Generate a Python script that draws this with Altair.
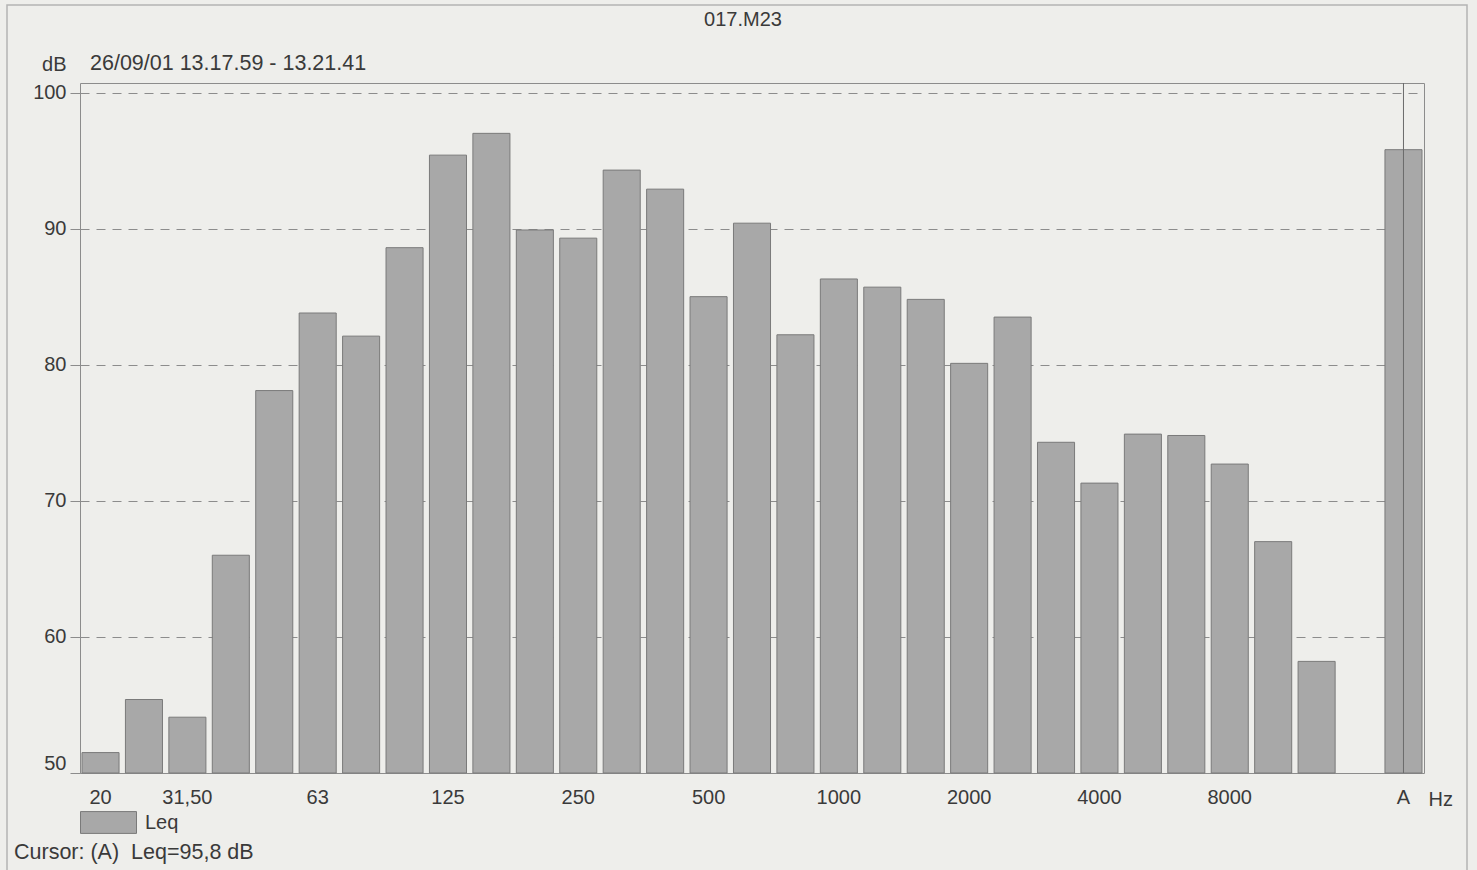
import altair as alt
import pandas as pd

# Third-octave bands (Hz), an empty slot, then the A-weighted total
BANDS = ["20", "25", "31.5", "40", "50", "63", "80", "100", "125", "160",
         "200", "250", "315", "400", "500", "630", "800", "1000", "1250", "1600",
         "2000", "2500", "3150", "4000", "5000", "6300", "8000", "10000", "12500",
         " ", "A"]
BAR_BANDS = ["20", "25", "31.5", "40", "50", "63", "80", "100", "125", "160",
             "200", "250", "315", "400", "500", "630", "800", "1000", "1250", "1600",
             "2000", "2500", "3150", "4000", "5000", "6300", "8000", "10000", "12500",
             "A"]
LEQ = [51.5, 55.4, 54.1, 66.0, 78.1, 83.8, 82.1, 88.6, 95.4, 97.0,
       89.9, 89.3, 94.3, 92.9, 85.0, 90.4, 82.2, 86.3, 85.7, 84.8,
       80.1, 83.5, 74.3, 71.3, 74.9, 74.8, 72.7, 67.0, 58.2,
       95.8]
TICK_BANDS = ["20", "31.5", "63", "125", "250", "500", "1000", "2000", "4000", "8000", "A"]
Y_TICKS = [50, 60, 70, 80, 90, 100]
SERIES = "Leq"
TITLE = "017.M23"
DATE_TEXT = "26/09/01 13.17.59 - 13.21.41"
CURSOR_TEXT = "Cursor: (A)\u00a0 Leq=95,8 dB"

FONT = "Liberation Sans"
TXT = "#3a3a3a"
FS = 20

df = pd.DataFrame({"band": BAR_BANDS, "leq": LEQ, "series": [SERIES] * len(BAR_BANDS)})

W, H = 1344, 690

x_enc = alt.X(
    "band:N",
    sort=BANDS,
    scale=alt.Scale(domain=BANDS, paddingInner=0.147, paddingOuter=0.046),
    axis=alt.Axis(
        values=TICK_BANDS,
        labelExpr="datum.value == '31.5' ? '31,50' : datum.value",
        labelAngle=0, ticks=False, domain=False, grid=False,
        labelPadding=14, labelFontSize=FS, labelFont=FONT, labelColor=TXT,
        title="Hz", titleFont=FONT, titleFontSize=FS, titleFontWeight="normal",
        titleColor=TXT, titleX=1348, titleY=26, titleAlign="left",
        titleBaseline="middle", titleAngle=0,
    ),
)

y_scale = alt.Scale(domain=[50, 100.7], zero=False, nice=False)

bars = alt.Chart(df).mark_bar(stroke="#7a7a7a", strokeWidth=1, opacity=1).encode(
    x=x_enc,
    y=alt.Y(
        "leq:Q",
        scale=y_scale,
        axis=alt.Axis(
            values=Y_TICKS, grid=True, gridDash=[9, 7], gridColor="#8c8c8c",
            gridWidth=1, domain=False, ticks=True, tickSize=10, tickColor="#8c8c8c",
            labelPadding=4, labelFlush=True, labelFontSize=FS, labelFont=FONT,
            labelColor=TXT,
            title="dB", titleAngle=0, titleAlign="right", titleBaseline="middle",
            titleX=-14, titleY=-19, titleFont=FONT, titleFontSize=FS,
            titleFontWeight="normal", titleColor=TXT,
        ),
    ),
    y2=alt.datum(50),
    color=alt.Color(
        "series:N",
        scale=alt.Scale(domain=[SERIES], range=["#a8a8a8"]),
        legend=alt.Legend(
            orient="none", legendX=0, legendY=711, title=None, padding=0,
            symbolType="M-1,-0.39H1V0.39H-1Z", symbolSize=3136,
            symbolStrokeColor="#7a7a7a", symbolStrokeWidth=1, symbolOpacity=1,
            labelFontSize=FS, labelFont=FONT, labelColor=TXT, labelOffset=8,
        ),
    ),
)

cursor = alt.Chart(df).transform_filter(alt.datum.band == "A").mark_rule(
    color="#6a6a6a", strokeWidth=1
).encode(x=x_enc, y=alt.value(0), y2=alt.value(H))

title_txt = alt.Chart(alt.Data(values=[{"t": TITLE}])).mark_text(
    font=FONT, fontSize=FS, color=TXT, align="center", baseline="middle"
).encode(x=alt.value(663), y=alt.value(-63), text="t:N")

date_txt = alt.Chart(alt.Data(values=[{"t": DATE_TEXT}])).mark_text(
    font=FONT, fontSize=21.5, color=TXT, align="left", baseline="middle"
).encode(x=alt.value(10), y=alt.value(-19), text="t:N")

cursor_txt = alt.Chart(alt.Data(values=[{"t": CURSOR_TEXT}])).mark_text(
    font=FONT, fontSize=21.5, color=TXT, align="left", baseline="middle"
).encode(x=alt.value(-66), y=alt.value(770), text="t:N")

frame = alt.Chart(alt.Data(values=[{"k": 1}])).mark_rect(
    fill=None, stroke="#b4b4b4", strokeWidth=1.5
).encode(x=alt.value(-73), x2=alt.value(1387), y=alt.value(-78), y2=alt.value(800))

chart = alt.layer(frame, bars, cursor, title_txt, date_txt, cursor_txt).properties(
    width=W, height=H,
    autosize=alt.AutoSizeParams(type="none"),
    padding={"left": 80, "top": 83, "right": 53, "bottom": 97},
    background="#eeeeeb",
).configure_view(stroke="#8c8c8c", strokeWidth=1)

chart.save("out.html", embed_options={"renderer": "svg", "actions": False})
